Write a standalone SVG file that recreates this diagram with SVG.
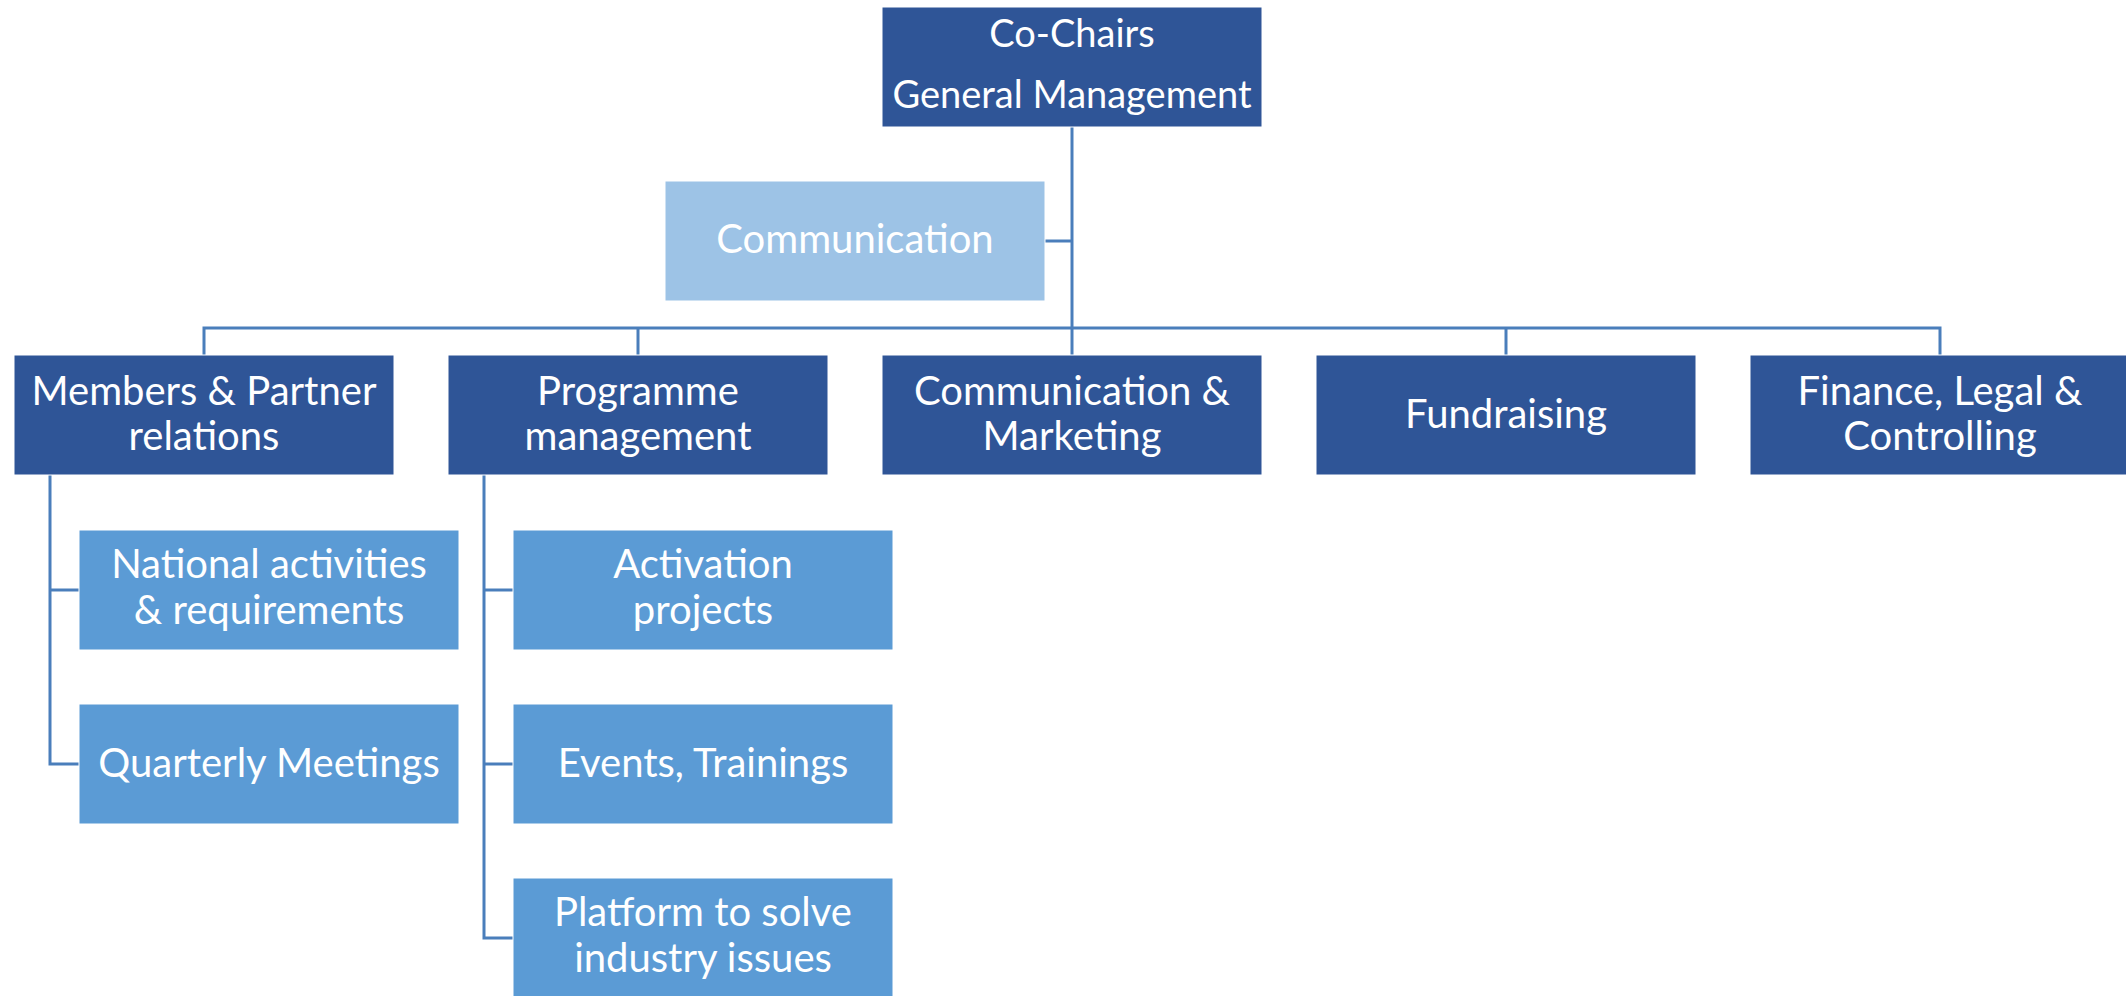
<svg xmlns="http://www.w3.org/2000/svg" width="2126" height="996" viewBox="0 0 2126 996">
  <style>
    .dark { fill: #2F5597; }
    .mid { fill: #5B9BD5; }
    .light { fill: #9DC3E6; }
    .box { stroke: #ffffff; stroke-width: 1; }
    .lbl { font-family: Lato, "Open Sans", "Liberation Sans", sans-serif; font-size: 40px; fill: #ffffff; text-anchor: middle; }
    .top { font-size: 38px; }
    .wire { fill: none; stroke: #4A7EBB; stroke-width: 3; }
  </style>
  <rect width="2126" height="996" fill="#ffffff"/>

  <!-- connectors -->
  <g id="connectors" class="wire">
    <path d="M1072 127 V355"/>
    <path d="M1045 241 H1072"/>
    <path d="M204 355 V328 H1940 V355"/>
    <path d="M638 328 V355"/>
    <path d="M1506 328 V355"/>
    <path d="M50 475 V764 H79"/>
    <path d="M50 590 H79"/>
    <path d="M484 475 V938 H513"/>
    <path d="M484 590 H513"/>
    <path d="M484 764 H513"/>
  </g>

  <!-- top level -->
  <g id="co-chairs">
    <rect class="box dark" x="882" y="7" width="380" height="120"/>
    <text class="lbl top" x="1072" y="47">Co-Chairs</text>
    <text class="lbl top" x="1072" y="108">General Management</text>
  </g>

  <g id="communication">
    <rect class="box light" x="665" y="181" width="380" height="120"/>
    <text class="lbl" x="855" y="253">Communication</text>
  </g>

  <!-- departments -->
  <g id="members-partner">
    <rect class="box dark" x="14" y="355" width="380" height="120"/>
    <text class="lbl" x="204" y="405">Members &amp; Partner</text>
    <text class="lbl" x="204" y="450">relations</text>
  </g>
  <g id="programme-management">
    <rect class="box dark" x="448" y="355" width="380" height="120"/>
    <text class="lbl" x="638" y="405">Programme</text>
    <text class="lbl" x="638" y="450">management</text>
  </g>
  <g id="communication-marketing">
    <rect class="box dark" x="882" y="355" width="380" height="120"/>
    <text class="lbl" x="1072" y="405">Communication &amp;</text>
    <text class="lbl" x="1072" y="450">Marketing</text>
  </g>
  <g id="fundraising">
    <rect class="box dark" x="1316" y="355" width="380" height="120"/>
    <text class="lbl" x="1506" y="428">Fundraising</text>
  </g>
  <g id="finance-legal-controlling">
    <rect class="box dark" x="1750" y="355" width="380" height="120"/>
    <text class="lbl" x="1940" y="405">Finance, Legal &amp;</text>
    <text class="lbl" x="1940" y="450">Controlling</text>
  </g>

  <!-- members & partner relations sub-units -->
  <g id="national-activities">
    <rect class="box mid" x="79" y="530" width="380" height="120"/>
    <text class="lbl" x="269" y="578">National activities</text>
    <text class="lbl" x="269" y="624">&amp; requirements</text>
  </g>
  <g id="quarterly-meetings">
    <rect class="box mid" x="79" y="704" width="380" height="120"/>
    <text class="lbl" x="269" y="777">Quarterly Meetings</text>
  </g>

  <!-- programme management sub-units -->
  <g id="activation-projects">
    <rect class="box mid" x="513" y="530" width="380" height="120"/>
    <text class="lbl" x="703" y="578">Activation</text>
    <text class="lbl" x="703" y="624">projects</text>
  </g>
  <g id="events-trainings">
    <rect class="box mid" x="513" y="704" width="380" height="120"/>
    <text class="lbl" x="703" y="777">Events, Trainings</text>
  </g>
  <g id="platform-industry">
    <rect class="box mid" x="513" y="878" width="380" height="120"/>
    <text class="lbl" x="703" y="926">Platform to solve</text>
    <text class="lbl" x="703" y="972">industry issues</text>
  </g>
</svg>
